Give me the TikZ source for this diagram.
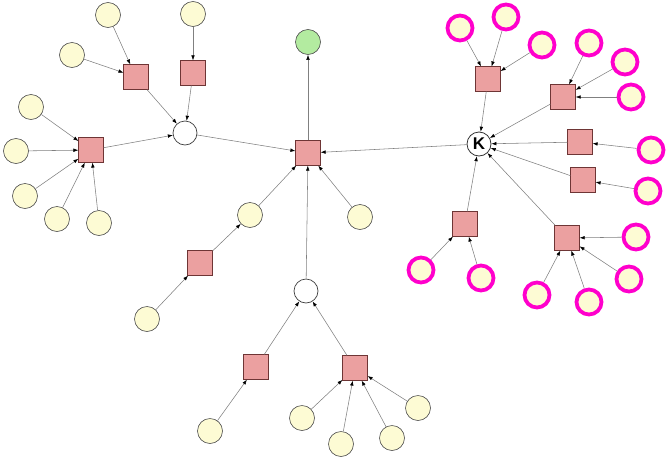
\documentclass[tikz,border=0pt]{standalone}
\usetikzlibrary{arrows.meta}
\usepackage{fontspec}
\setsansfont{Liberation Sans}
\definecolor{ylw}{HTML}{FDFBD4}
\definecolor{sqf}{HTML}{EBA0A0}
\definecolor{sqd}{HTML}{6E3535}
\definecolor{mag}{HTML}{FF00CC}
\definecolor{grn}{HTML}{B3EBA0}
\definecolor{edg}{HTML}{808080}
\tikzset{
  yc/.style={circle,draw=black!70,fill=ylw,minimum size=25pt,inner sep=0pt,line width=0.6pt},
  mc/.style={circle,draw=mag,fill=ylw,minimum size=25pt,inner sep=0pt,line width=3.8pt},
  sq/.style={rectangle,draw=sqd,fill=sqf,minimum size=24.5pt,inner sep=0pt,line width=0.7pt},
  wc/.style={circle,draw=black!75,fill=white,minimum size=24pt,inner sep=0pt,line width=0.7pt},
  kc/.style={circle,draw=black!80,fill=white,minimum size=24pt,inner sep=0pt,line width=0.8pt,font=\sffamily\bfseries\fontsize{17}{17}\selectfont},
  gc/.style={circle,draw=black!70,fill=grn,minimum size=25pt,inner sep=0pt,line width=0.6pt},
  ed/.style={draw=edg,line width=0.55pt,-{Latex[length=5pt,width=3.6pt,color=black]}},
}
\begin{document}
\begin{tikzpicture}[x=1pt,y=-1pt]
\useasboundingbox (0,0) rectangle (666,458);
% left upper cluster
\node[yc] (a1) at (108,15) {};
\node[yc] (a2) at (72,55) {};
\node[yc] (a3) at (193,14) {};
\node[sq] (s1) at (136,77) {};
\node[sq] (s2) at (193,73) {};
\node[wc] (w1) at (185,133) {};
\node[yc] (a4) at (31,107) {};
\node[yc] (a5) at (16,151) {};
\node[sq] (s3) at (91,150) {};
\node[yc] (a6) at (25,196) {};
\node[yc] (a7) at (57,219) {};
\node[yc] (a8) at (99,223) {};
% center
\node[gc] (g) at (308,42) {};
\node[sq] (c) at (308,153) {};
\node[yc] (b1) at (250,215) {};
\node[yc] (b2) at (360,217) {};
\node[sq] (sb) at (200,263) {};
\node[yc] (b3) at (147,319) {};
\node[wc] (w2) at (306,291) {};
\node[sq] (sb2) at (256,367) {};
\node[sq] (sb3) at (355,368) {};
\node[yc] (b4) at (210,431) {};
\node[yc] (b5) at (302,418) {};
\node[yc] (b6) at (341,444) {};
\node[yc] (b7) at (392,438) {};
\node[yc] (b8) at (418,408) {};
% right cluster
\node[kc] (k) at (479,144) {K};
\node[mc] (m1) at (460,28) {};
\node[mc] (m2) at (506,17) {};
\node[mc] (m3) at (542,45) {};
\node[sq] (k1) at (488,79) {};
\node[mc] (m4) at (589,43) {};
\node[mc] (m5) at (625,62) {};
\node[mc] (m6) at (631,97) {};
\node[sq] (k2) at (563,97) {};
\node[sq] (k3) at (580,142) {};
\node[mc] (m7) at (651,150) {};
\node[sq] (k4) at (583,180) {};
\node[mc] (m8) at (648,191) {};
\node[sq] (k5) at (465,224) {};
\node[sq] (k6) at (567,238) {};
\node[mc] (m9) at (421,270) {};
\node[mc] (m10) at (481,278) {};
\node[mc] (m11) at (636,237) {};
\node[mc] (m12) at (629,279) {};
\node[mc] (m13) at (537,295) {};
\node[mc] (m14) at (589,302) {};
% edges
\foreach \u/\v in {a1/s1,a2/s1,a3/s2,s1/w1,s2/w1,a4/s3,a5/s3,a6/s3,a7/s3,a8/s3,s3/w1,w1/c,c/g,k/c,b1/c,b2/c,w2/c,sb/b1,b3/sb,sb2/w2,sb3/w2,b4/sb2,b5/sb3,b6/sb3,b7/sb3,b8/sb3,m1/k1,m2/k1,m3/k1,k1/k,m4/k2,m5/k2,m6/k2,k2/k,m7/k3,k3/k,m8/k4,k4/k,m9/k5,m10/k5,k5/k,m11/k6,m12/k6,m13/k6,m14/k6,k6/k}
  \draw[ed] (\u) -- (\v);
\end{tikzpicture}
\end{document}
